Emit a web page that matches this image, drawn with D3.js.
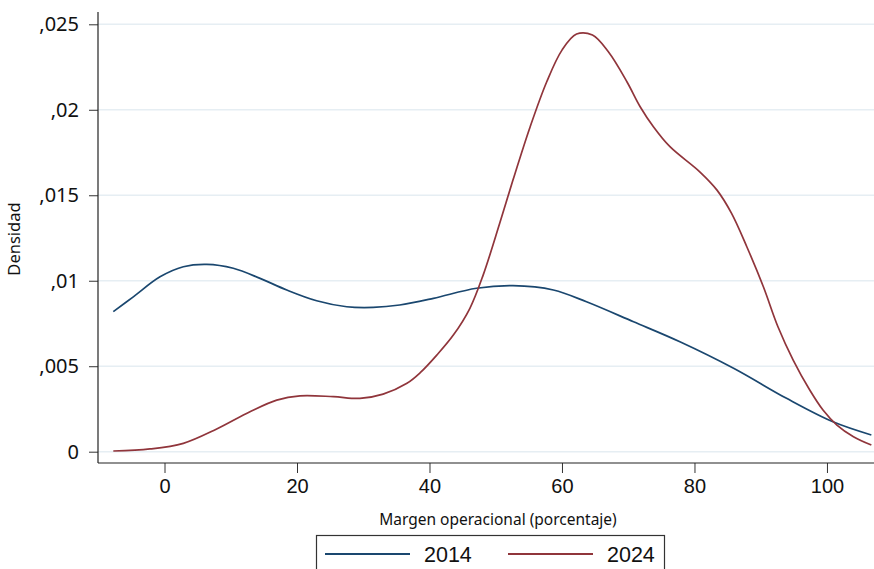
<!DOCTYPE html>
<html><head><meta charset="utf-8">
<script src="https://cdn.jsdelivr.net/npm/d3@7"></script>
<style>body{margin:0;background:#fff}svg{display:block}</style>
</head><body>
<script>
const xTicks = [0, 20, 40, 60, 80, 100];
const yTicks = [0, 0.005, 0.01, 0.015, 0.02, 0.025];
const yTickLabels = ["0", ",005", ",01", ",015", ",02", ",025"];
const seriesNames = ["2014", "2024"];
const x2014 = [-7.73,-4.71,-0.68,2.84,6.37,10.38,14.42,18.45,22.97,27.5,31.5,35.5,40.6,47.1,52.6,58.7,63.7,70.8,77.8,85.9,93.9,100.9,106.7];
const y2014 = [0.00819,0.00906,0.01023,0.01082,0.01096,0.01073,0.01014,0.00946,0.00883,0.00848,0.00844,0.00858,0.00897,0.00956,0.00971,0.00946,0.00877,0.00760,0.00643,0.00488,0.00312,0.00175,0.00098];
const x2024 = [-7.73,-2.19,2.84,7.88,12.9,16.94,20.45,25.5,29.5,33.0,36.6,38.6,41.1,43.6,46.1,48.1,50.6,52.6,55.2,57.7,60.0,62.2,64.6,67.0,69.8,71.8,73.8,76.3,80.8,83.4,85.6,87.9,90.4,92.6,94.9,97.4,99.4,101.5,104.0,106.7];
const y2024 = [0.00004,0.00016,0.00049,0.00133,0.00234,0.00302,0.00327,0.00322,0.00312,0.00337,0.00400,0.00462,0.00565,0.00682,0.00839,0.01033,0.01336,0.01589,0.01901,0.02164,0.02349,0.02443,0.02437,0.02339,0.02164,0.02018,0.01901,0.01784,0.01637,0.01530,0.01394,0.01199,0.00965,0.00731,0.00536,0.00361,0.00244,0.00156,0.00088,0.00039];
const colors = ["#1a476f", "#90353b"];

(function () {
const W = 874, H = 569;
const svg = d3.select("body").append("svg").attr("width", W).attr("height", H);
const mL = 98, mR = 874, mT = 12, mB = 463;
const x = d3.scaleLinear().domain([-10.04, 107.1]).range([mL, mR]);
const y = d3.scaleLinear().domain([0, 0.025]).range([451.7, 24.3]);
const geo = "'Noto Sans', Lato, sans-serif";
const ari = "'Liberation Sans', Arial, sans-serif";

// grid
svg.append("g").selectAll("line").data(yTicks).join("line")
  .attr("x1", mL).attr("x2", mR).attr("y1", d => y(d)).attr("y2", d => y(d))
  .attr("stroke", "#e6eef3").attr("stroke-width", 1.5);

// y axis
const yAxis = d3.axisLeft(y).tickValues(yTicks).tickSize(9)
  .tickFormat((d, i) => yTickLabels[i]);
const gy = svg.append("g").attr("transform", `translate(${mL},0)`).call(yAxis);
gy.select(".domain").remove();
gy.selectAll(".tick line").attr("stroke", "#333");
gy.selectAll(".tick text").attr("font-family", geo)
  .attr("font-size", 20).attr("fill", "#111").attr("x", -19);
svg.append("line").attr("x1", mL).attr("x2", mL).attr("y1", mT).attr("y2", mB)
  .attr("stroke", "#222").attr("stroke-width", 1.2);

// x axis
const xAxis = d3.axisBottom(x).tickValues(xTicks).tickSize(10).tickFormat(d => d);
const gx = svg.append("g").attr("transform", `translate(0,${mB})`).call(xAxis);
gx.select(".domain").remove();
gx.selectAll(".tick line").attr("stroke", "#333");
gx.selectAll(".tick text").attr("font-family", ari)
  .attr("font-size", 20).attr("fill", "#111").attr("y", 16);
svg.append("line").attr("x1", mL).attr("x2", mR).attr("y1", mB).attr("y2", mB)
  .attr("stroke", "#222").attr("stroke-width", 1.2);

// titles
svg.append("text").attr("x", 498).attr("y", 525).attr("text-anchor", "middle")
  .attr("font-family", geo).attr("font-size", 15.5)
  .attr("fill", "#111").text("Margen operacional (porcentaje)");
svg.append("text").attr("transform", "translate(20,239) rotate(-90)").attr("text-anchor", "middle")
  .attr("font-family", geo).attr("font-size", 16.5)
  .attr("fill", "#111").text("Densidad");

// lines
const series = [x2014.map((v, i) => [v, y2014[i]]), x2024.map((v, i) => [v, y2024[i]])];
const line = d3.line().x(d => x(d[0])).y(d => y(d[1])).curve(d3.curveCatmullRom.alpha(0.5));
svg.append("g").selectAll("path").data(series).join("path")
  .attr("d", line).attr("fill", "none")
  .attr("stroke", (d, i) => colors[i]).attr("stroke-width", 1.7);

// legend
svg.append("rect").attr("x", 316.5).attr("y", 535.5).attr("width", 348).attr("height", 45)
  .attr("fill", "#fff").attr("stroke", "#333").attr("stroke-width", 1.2);
const lx = [[325, 410, 424], [508, 593, 607]];
seriesNames.forEach((n, i) => {
  svg.append("line").attr("x1", lx[i][0]).attr("x2", lx[i][1]).attr("y1", 554).attr("y2", 554)
    .attr("stroke", colors[i]).attr("stroke-width", 1.8);
  svg.append("text").attr("x", lx[i][2]).attr("y", 562)
    .attr("font-family", ari).attr("font-size", 21.5)
    .attr("fill", "#111").text(n);
});
})();
</script>
</body></html>
